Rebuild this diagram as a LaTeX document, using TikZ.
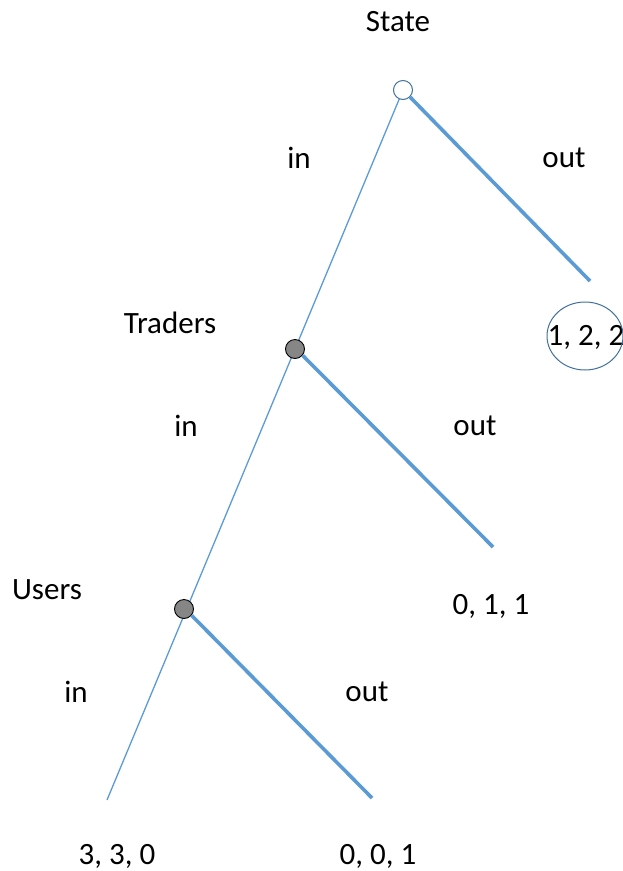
\documentclass[tikz,border=0pt]{standalone}
\usepackage{fontspec}
\setmainfont{Carlito}
\definecolor{branch}{HTML}{5B9BD5}
\definecolor{rim}{HTML}{41719C}
\begin{document}
\begin{tikzpicture}[x=1pt,y=-1pt,
  lbl/.style={font=\fontsize{31}{36}\selectfont, inner sep=0pt},
  thinbranch/.style={draw=branch, line width=1.3pt},
  thickbranch/.style={draw=branch, line width=3.6pt},
  rootnode/.style={circle, draw=rim, fill=white, line width=1pt, minimum size=19pt, inner sep=0pt},
  decnode/.style={circle, draw=black, fill=gray!95, line width=0.9pt, minimum size=19pt, inner sep=0pt}]
\useasboundingbox (0,0) rectangle (623,871);

% terminal points of the branches
\coordinate (endIn) at (107,800);
\coordinate (endS) at (590,281);
\coordinate (endT) at (493,547);
\coordinate (endU) at (372,798);

% the "in" path runs through every decision node
\draw[thinbranch] (403,90) -- (endIn);

% decision nodes
\node[rootnode] (state) at (403,90) {};
\node[decnode] (traders) at (295,349) {};
\node[decnode] (users) at (184,609) {};

% "out" branches
\draw[thickbranch] (state.-45) -- (endS);
\draw[thickbranch] (traders.-40) -- (endT);
\draw[thickbranch] (users.-40) -- (endU);

% player names
\node[lbl] (tState) at (398,22) {State};
\node[lbl] (tTraders) at (170,323) {Traders};
\node[lbl] (tUsers) at (47,590) {Users};

% action labels
\node[lbl] (in1) at (299,158) {in};
\node[lbl] (out1) at (564,158) {out};
\node[lbl] (in2) at (186,426) {in};
\node[lbl] (out2) at (475,426) {out};
\node[lbl] (in3) at (76,692) {in};
\node[lbl] (out3) at (367,692) {out};

% payoffs
\node[lbl] (p1) at (586,337) {1, 2, 2};
\draw[rim, line width=1pt] (585,336) ellipse [x radius=38, y radius=34];
\node[lbl] (p2) at (491,606) {0, 1, 1};
\node[lbl] (p3) at (117,856) {3, 3, 0};
\node[lbl] (p4) at (378,856) {0, 0, 1};
\end{tikzpicture}
\end{document}
